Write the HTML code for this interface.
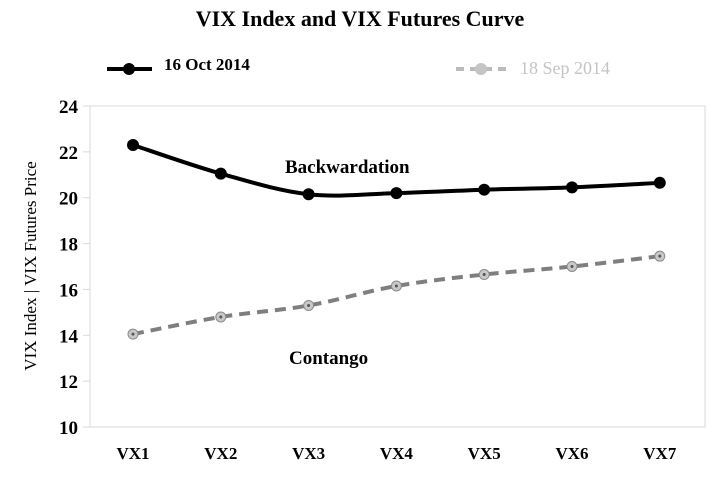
<!DOCTYPE html>
<html><head><meta charset="utf-8"><style>
body{margin:0;background:#fff}
svg{display:block;font-family:"Liberation Serif",serif}
</style></head><body>
<svg id="chart" width="720" height="479">
<text x="360" y="26" text-anchor="middle" font-size="22" font-weight="bold">VIX Index and VIX Futures Curve</text>
<g>
<line x1="107" y1="69" x2="152" y2="69" stroke="#000" stroke-width="4"/>
<circle cx="129" cy="69" r="6" fill="#000"/>
<text x="164" y="70" font-size="17" font-weight="bold">16 Oct 2014</text>
</g>
<g>
<line x1="456" y1="69" x2="506" y2="69" stroke="#bbb" stroke-width="4" stroke-dasharray="8,6"/>
<circle cx="481" cy="69" r="6" fill="#c4c4c4"/>
<text x="520" y="74" font-size="18" fill="#c4c4c4">18 Sep 2014</text>
</g>
<rect x="90" y="106" width="615" height="321" fill="none" stroke="#d9d9d9"/>
<text transform="translate(36,266) rotate(-90)" text-anchor="middle" font-size="17">VIX Index | VIX Futures Price</text>
<text x="285" y="173" font-size="19" font-weight="bold">Backwardation</text>
<text x="289" y="364" font-size="19" font-weight="bold">Contango</text>
<g id="axes"></g><g id="series"></g>
</svg>
<script>
const categories=["VX1","VX2","VX3","VX4","VX5","VX6","VX7"];
const octValues=[22.3,21.05,20.15,20.2,20.35,20.45,20.65];
const sepValues=[14.05,14.8,15.3,16.15,16.65,17.0,17.45];
const yTicks=[10,12,14,16,18,20,22,24];
const NS="http://www.w3.org/2000/svg";
const yScale=v=>427-(v-10)*(321/14);
const xScale=i=>133+i*87.8;
function mk(tag,attrs,parent){const e=document.createElementNS(NS,tag);for(const k in attrs)e.setAttribute(k,attrs[k]);parent.appendChild(e);return e;}
const axes=document.getElementById('axes'),series=document.getElementById('series');
yTicks.forEach(t=>{
 const tk=mk('line',{x1:83,x2:90,y1:yScale(t),y2:yScale(t),stroke:'#d9d9d9'},axes);
 
 
 const l=mk('text',{x:78,y:yScale(t)+7,'text-anchor':'end','font-size':19,'font-weight':'bold'},axes);
 l.textContent=t;
 
 
});
categories.forEach((c,i)=>{
 const l=mk('text',{x:xScale(i),y:459,'text-anchor':'middle','font-size':17,'font-weight':'bold'},axes);
 l.textContent=c;
 
 
});
function smooth(vals){
 const p=vals.map((v,i)=>[xScale(i),yScale(v)]);
 let d=`M${p[0][0]},${p[0][1]}`;
 for(let i=0;i<p.length-1;i++){
  const p0=p[i-1]||p[i],p1=p[i],p2=p[i+1],p3=p[i+2]||p2;
  const c1=[p1[0]+(p2[0]-p0[0])/6,p1[1]+(p2[1]-p0[1])/6];
  const c2=[p2[0]-(p3[0]-p1[0])/6,p2[1]-(p3[1]-p1[1])/6];
  d+=` C${c1[0]},${c1[1]} ${c2[0]},${c2[1]} ${p2[0]},${p2[1]}`;
 }
 return d;
}
const sl=mk('path',{d:smooth(sepValues),fill:'none',stroke:'#7f7f7f','stroke-width':4,'stroke-dasharray':'11,7'},series);


sepValues.forEach((v,i)=>{
 const c=mk('circle',{cx:xScale(i),cy:yScale(v),r:5,fill:'#c8c8c8',stroke:'#8a8a8a','stroke-width':1},series);
 
 
 mk('circle',{cx:xScale(i),cy:yScale(v),r:1.5,fill:'#555'},series);
});
const ol=mk('path',{d:smooth(octValues),fill:'none',stroke:'#000','stroke-width':4},series);


octValues.forEach((v,i)=>{
 const c=mk('circle',{cx:xScale(i),cy:yScale(v),r:6,fill:'#000'},series);
 
 
});
</script>
</body></html>
